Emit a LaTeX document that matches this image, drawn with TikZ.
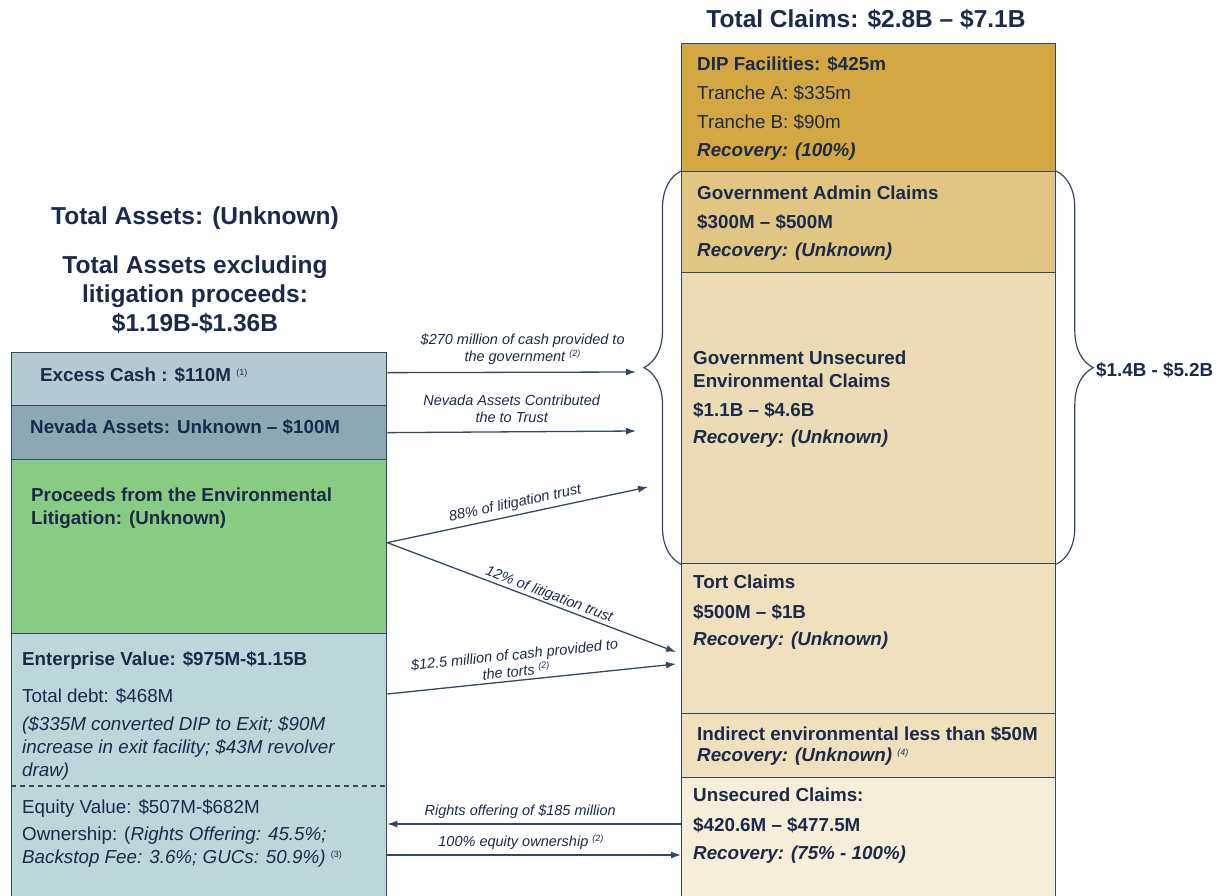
\documentclass[tikz,border=0pt]{standalone}
\usepackage{fontspec}
\setmainfont{Liberation Sans}
\usetikzlibrary{arrows.meta,decorations.pathreplacing}

\definecolor{azul}{HTML}{1B2A4A}
\definecolor{borde}{HTML}{34485F}
\definecolor{cexc}{HTML}{B5CAD0}
\definecolor{cnev}{HTML}{8BA8B3}
\definecolor{cproc}{HTML}{88CC84}
\definecolor{cent}{HTML}{BDD6DA}
\definecolor{cdip}{HTML}{D3A842}
\definecolor{cadm}{HTML}{E0C583}
\definecolor{cgun}{HTML}{ECDCB5}
\definecolor{ctort}{HTML}{F0E1BE}
\definecolor{cuns}{HTML}{F7EEDA}

\newcommand{\nota}[1]{\textsuperscript{\mdseries\fontsize{9}{9}\selectfont(#1)}}

\begin{document}
\begin{tikzpicture}[x=1pt, y=-1pt, >={Latex[length=10pt,width=7pt]},
  caja/.style={draw=borde, line width=1.3pt, anchor=north west, inner sep=0pt},
  izq/.style={caja, minimum width=375pt},
  der/.style={caja, minimum width=374pt},
  negr/.style={anchor=west, inner sep=0pt, text=azul, align=left, font=\fontsize{18.8}{23}\selectfont\bfseries},
  norm/.style={anchor=west, inner sep=0pt, text=azul, align=left, font=\fontsize{18.8}{23}\selectfont},
  ital/.style={norm, font=\fontsize{18.8}{23}\selectfont\itshape},
  recu/.style={negr, font=\fontsize{18.8}{23}\selectfont\bfseries\itshape},
  titulo/.style={inner sep=0pt, text=azul, align=center, font=\fontsize{24.5}{29}\selectfont\bfseries},
  flecha/.style={->, draw=borde, line width=1.3pt},
  etiq/.style={inner sep=1pt, text=azul, align=center, font=\fontsize{14.5}{17}\selectfont\itshape},
  llave/.style={draw=borde, line width=1.2pt, decorate, decoration={brace, amplitude=37pt}}]
\useasboundingbox (0,0) rectangle (1217,896);
% Cajas
% ---
% Activos
% ---
\node [izq, fill=cexc, minimum height=53pt] (exc) at (11,352) {};
\node [izq, fill=cnev, minimum height=54pt] (nev) at (11,405) {};
\node [izq, fill=cproc, minimum height=174pt] (proc) at (11,459) {};
\node [izq, fill=cent, minimum height=270pt] (ent) at (11,633) {};
% ---
% Reclamos
% ---
\node [der, fill=cdip, minimum height=128pt] (dip) at (681,43) {};
\node [der, fill=cadm, minimum height=101pt] (adm) at (681,171) {};
\node [der, fill=cgun, minimum height=291pt] (gun) at (681,272) {};
\node [der, fill=ctort, minimum height=150pt] (tort) at (681,563) {};
\node [der, fill=ctort, minimum height=64pt] (ind) at (681,713) {};
\node [der, fill=cuns, minimum height=126pt] (uns) at (681,777) {};

% Titulos
\node [titulo] (tClaims) at (866,19) {Total Claims: \$2.8B – \$7.1B};
\node [titulo] (tAssets) at (195,218) {Total Assets: (Unknown)};
\node [titulo] (tExcl) at (195,295) {Total Assets excluding\\litigation proceeds:\\\$1.19B-\$1.36B};

% Textos
\node [negr] (excT) at (40,375) {Excess Cash : \$110M \nota{1}};
\node [negr] (nevT) at (30,427) {Nevada Assets: Unknown – \$100M};
\node [negr] (procT) at (31,508.5) {Proceeds from the Environmental\\Litigation: (Unknown)};
\node [negr] (entT) at (22,660) {Enterprise Value: \$975M-\$1.15B};
\node [norm] (debtT) at (22,696) {Total debt: \$468M};
\node [ital] (debtN) at (22,748) {(\$335M converted DIP to Exit; \$90M\\increase in exit facility; \$43M revolver\\draw)};
\coordinate (dA) at (11,786);
\coordinate (dB) at (386,786);
\draw [borde, line width=1.2pt, dash pattern=on 5pt off 4pt] (dA) -- (dB);
\node [norm] (eqT) at (22,808) {Equity Value: \$507M-\$682M};
\node [norm] (ownT) at (22,847.5) {Ownership: (\textit{Rights Offering: 45.5\%;}\\\textit{Backstop Fee: 3.6\%; GUCs: 50.9\%)} \nota{3}};

\node [negr] (dipT) at (697,64) {DIP Facilities: \$425m};
\node [norm] (dipA) at (697,93) {Tranche A: \$335m};
\node [norm] (dipB) at (697,122) {Tranche B: \$90m};
\node [recu] (dipR) at (697,152) {Recovery: (100\%)};
\node [negr] (admT) at (697,193) {Government Admin Claims};
\node [negr] (admM) at (697,222) {\$300M – \$500M};
\node [recu] (admR) at (697,252) {Recovery: (Unknown)};
\node [negr] (gunT) at (693,369.5) {Government Unsecured\\Environmental Claims};
\node [negr] (gunM) at (693,410) {\$1.1B – \$4.6B};
\node [recu] (gunR) at (693,439) {Recovery: (Unknown)};
\node [negr] (tortT) at (693,582) {Tort Claims};
\node [negr] (tortM) at (693,612) {\$500M – \$1B};
\node [recu] (tortR) at (693,641) {Recovery: (Unknown)};
\node [negr] (indT) at (697,734) {Indirect environmental less than \$50M};
\node [recu] (indR) at (697,757) {Recovery: (Unknown) \nota{4}};
\node [negr] (unsT) at (693,795) {Unsecured Claims:};
\node [negr] (unsM) at (693,825) {\$420.6M – \$477.5M};
\node [recu] (unsR) at (693,855) {Recovery: (75\% - 100\%)};

% Llaves
\draw [llave] (gun.south west) -- (adm.north west);
\draw [llave] (adm.north east) -- (gun.south east);
\node [negr] (rango) at (1096,370) {\$1.4B - \$5.2B};

% Flechas
\coordinate (pA) at (636,372);
\coordinate (pB) at (636,431);
\coordinate (p88) at (648,487);
% ---
\path ([yshift=6.5pt]exc.east) edge [flecha] node [etiq, above=6pt, xshift=11pt] {\$270 million of cash provided to\\the government \nota{2}} (pA);
\path (nev.east) edge [flecha] node [etiq, above=8pt] {Nevada Assets Contributed\\the to Trust} (pB);
\path ([yshift=4pt]proc.east) edge [flecha] node [etiq, sloped, above=3pt] {88\% of litigation trust} (p88);
\path ([yshift=4pt]proc.east) edge [flecha] node [etiq, sloped, above=0pt, pos=0.55] {12\% of litigation trust} ([xshift=-5pt, yshift=-89pt]tort.north west);
\path ([yshift=-61pt]ent.north east) edge [flecha] node [etiq, sloped, above=2pt, pos=0.45] {\$12.5 million of cash provided to\\the torts \nota{2}} ([xshift=-5pt, yshift=-101pt]tort.north west);
\path ([yshift=-47pt]uns.north west) edge [flecha] node [etiq, above=4pt, xshift=-14pt] {Rights offering of \$185 million} ([yshift=-191pt]ent.north east);
\path ([yshift=-222pt]ent.north east) edge [flecha] node [etiq, above=4pt, xshift=-13pt] {100\% equity ownership \nota{2}} ([yshift=-78pt]uns.north west);
\end{tikzpicture}
\end{document}
